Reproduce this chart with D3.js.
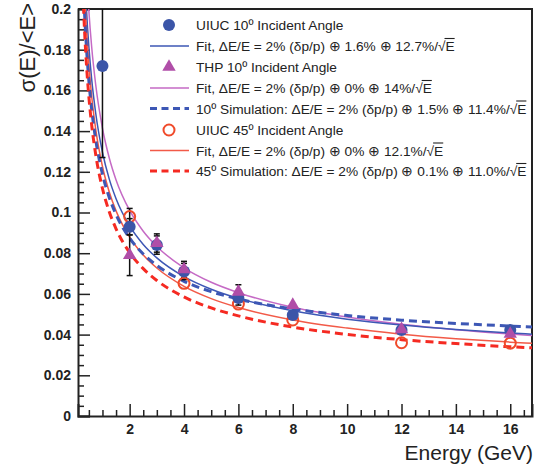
<!DOCTYPE html>
<html><head><meta charset="utf-8">
<script src="https://cdn.jsdelivr.net/npm/d3@7"></script>
<style>html,body{margin:0;padding:0;background:#fff;}svg{display:block;}</style>
</head><body>
<svg id="c" width="535" height="466"></svg>
<script>
// ---- data ----
const uiuc10E = [1, 2, 3, 4, 6, 8, 12, 16];
const uiuc10V = [0.172, 0.093, 0.084, 0.071, 0.058, 0.0496, 0.0423, 0.0423];
const uiuc10Err = [0.045, 0.004, 0.0045, 0.004, 0.0035, 0, 0, 0];

const thpE = [2, 3, 4, 6, 8, 12, 16];
const thpV = [0.079, 0.085, 0.072, 0.061, 0.0545, 0.0426, 0.0403];
const thpErr = [0.010, 0.0045, 0.004, 0.0035, 0, 0, 0];

const uiuc45E = [2, 4, 6, 8, 12, 16];
const uiuc45V = [0.098, 0.0652, 0.055, 0.0472, 0.036, 0.0358];
const uiuc45Err = [0.004, 0, 0, 0, 0, 0];

// curves on a common energy grid
const curveE = [0.25,0.3,0.35,0.4,0.45,0.5,0.6,0.75,1,1.25,1.5,2,2.5,3,4,5,6,8,10,12,14,16,16.8];
const fitUiuc10 = [0.2553,0.2333,0.2162,0.2024,0.1910,0.1814,0.1659,0.1489,0.1296,0.1164,0.1068,0.0934,0.0843,0.0777,0.0685,0.0623,0.0578,0.0517,0.0476,0.0447,0.0425,0.0408,0.0402];
const fitThp = [0.2807,0.2564,0.2375,0.2223,0.2097,0.1990,0.1818,0.1629,0.1414,0.1268,0.1160,0.1010,0.0908,0.0833,0.0728,0.0657,0.0606,0.0534,0.0486,0.0451,0.0424,0.0403,0.0396];
const sim10 = [0.2305,0.2109,0.1956,0.1834,0.1733,0.1647,0.1510,0.1359,0.1189,0.1074,0.0990,0.0874,0.0796,0.0740,0.0662,0.0611,0.0575,0.0526,0.0494,0.0471,0.0455,0.0442,0.0437];
const fitUiuc45 = [0.2428,0.2218,0.2055,0.1924,0.1815,0.1723,0.1575,0.1411,0.1226,0.1101,0.1008,0.0879,0.0791,0.0727,0.0637,0.0577,0.0533,0.0472,0.0432,0.0402,0.0380,0.0363,0.0357];
const sim45 = [0.2209,0.2018,0.1870,0.1751,0.1652,0.1568,0.1434,0.1286,0.1118,0.1004,0.0920,0.0803,0.0724,0.0666,0.0585,0.0531,0.0492,0.0437,0.0401,0.0375,0.0356,0.0340,0.0335];

const xTicks = [2, 4, 6, 8, 10, 12, 14, 16];
const xTickLabels = ["2", "4", "6", "8", "10", "12", "14", "16"];
const yTicks = [0, 0.02, 0.04, 0.06, 0.08, 0.1, 0.12, 0.14, 0.16, 0.18, 0.2];
const yTickLabels = ["0", "0.02", "0.04", "0.06", "0.08", "0.1", "0.12", "0.14", "0.16", "0.18", "0.2"];

const legendLabels = [
  ["UIUC 10º Incident Angle"],
  ["Fit, ΔE/E = 2% (δp/p) ⊕ 1.6% ⊕ 12.7%/", "E"],
  ["THP 10º Incident Angle"],
  ["Fit, ΔE/E = 2% (δp/p) ⊕ 0% ⊕ 14%/", "E"],
  ["10º Simulation: ΔE/E = 2% (δp/p) ⊕ 1.5% ⊕ 11.4%/", "E"],
  ["UIUC 45º Incident Angle"],
  ["Fit, ΔE/E = 2% (δp/p) ⊕ 0% ⊕ 12.1%/", "E"],
  ["45º Simulation: ΔE/E = 2% (δp/p) ⊕ 0.1% ⊕ 11.0%/", "E"]
];

// ---- styles ----
const C = {
  blue: "#3b55a8", blueLine: "#3d57b5", magenta: "#b04ea8", magentaLine: "#c56ac5",
  red: "#f04a2a", redLine: "#f25a48", redDash: "#f52a22", axis: "#222"
};

const svg = d3.select("#c");
const L = 78, R = 532, T = 9, B = 416;
const x = d3.scaleLinear().domain([0.1, 16.8]).range([L, R]);
const y = d3.scaleLinear().domain([0, 0.2]).range([B, T]);

svg.append("defs").append("clipPath").attr("id", "clip")
  .append("rect").attr("x", L).attr("y", T).attr("width", R - L).attr("height", B - T);

const xMinor = d3.range(0.5, 16.8, 0.5).filter(v => Math.abs(v / 2 - Math.round(v / 2)) > 1e-6);
const yMinor = d3.range(0.005, 0.2, 0.005).filter(v => Math.abs(v / 0.02 - Math.round(v / 0.02)) > 1e-6);

const font = "'Liberation Sans', Arial, Helvetica, sans-serif";

svg.append("g").attr("transform", `translate(0,${B})`)
  .call(d3.axisBottom(x).tickValues(xTicks).tickSize(-12).tickPadding(8)
    .tickFormat((d, i) => xTickLabels[i]));
svg.append("g").attr("transform", `translate(0,${B})`)
  .call(d3.axisBottom(x).tickValues(xMinor).tickSize(-6).tickFormat(""))
  .call(g => g.select(".domain").remove());
svg.append("g").attr("transform", `translate(${L},0)`)
  .call(d3.axisLeft(y).tickValues(yTicks).tickSize(-12).tickPadding(7)
    .tickFormat((d, i) => yTickLabels[i]));
svg.append("g").attr("transform", `translate(${L},0)`)
  .call(d3.axisLeft(y).tickValues(yMinor).tickSize(-6).tickFormat(""))
  .call(g => g.select(".domain").remove());

svg.selectAll(".tick line").attr("stroke", C.axis).attr("stroke-width", 1.5);
svg.selectAll(".domain").attr("stroke", C.axis).attr("stroke-width", 2);
svg.selectAll(".tick text").attr("font-family", font).attr("font-weight", "bold")
  .attr("font-size", 14).attr("fill", "#222");

svg.append("path").attr("d", `M${L},${T}H${R}V${B}`).attr("fill", "none")
  .attr("stroke", C.axis).attr("stroke-width", 2);

svg.append("text").attr("x", R + 1).attr("y", 460).attr("text-anchor", "end")
  .attr("font-family", font).attr("font-size", 21).attr("fill", "#222").text("Energy (GeV)");
svg.append("text").attr("transform", "translate(35,3) rotate(-90)").attr("text-anchor", "end")
  .attr("font-family", font).attr("font-size", 22).attr("fill", "#222").text("σ(E)/<E>");

const plot = svg.append("g").attr("clip-path", "url(#clip)");
const line = d3.line().x(d => x(d[0])).y(d => y(d[1])).curve(d3.curveMonotoneX);
const curves = [
  { v: fitThp, color: C.magentaLine, w: 1.5, dash: null },
  { v: fitUiuc10, color: C.blueLine, w: 1.5, dash: null },
  { v: fitUiuc45, color: C.redLine, w: 1.5, dash: null },
  { v: sim10, color: C.blueLine, w: 3, dash: "8,5" },
  { v: sim45, color: C.redDash, w: 3, dash: "8,5" }
];
curves.forEach(c => {
  plot.append("path").datum(curveE.map((e, i) => [e, c.v[i]]))
    .attr("d", line).attr("fill", "none").attr("stroke", c.color)
    .attr("stroke-width", c.w).attr("stroke-dasharray", c.dash);
});

function errBars(E, V, Err) {
  E.forEach((e, i) => {
    if (!Err[i]) return;
    const cx = x(e), y1 = y(Math.min(V[i] + Err[i], 0.2)), y0 = y(V[i] - Err[i]);
    plot.append("line").attr("x1", cx).attr("x2", cx).attr("y1", y1).attr("y2", y0)
      .attr("stroke", "#111").attr("stroke-width", 1.5);
    [y0, y1].forEach(yy => {
      if (V[i] + Err[i] > 0.2 && yy === y1) return;
      plot.append("line").attr("x1", cx - 3).attr("x2", cx + 3).attr("y1", yy).attr("y2", yy)
        .attr("stroke", "#111").attr("stroke-width", 1.5);
    });
  });
}
errBars(uiuc10E, uiuc10V, uiuc10Err);
errBars(thpE, thpV, thpErr);
errBars(uiuc45E, uiuc45V, uiuc45Err);

const tri = d3.symbol().type(d3.symbolTriangle).size(78);
function circleFilled(g, cx, cy) {
  g.append("circle").attr("cx", cx).attr("cy", cy).attr("r", 6).attr("fill", C.blue);
}
function triangle(g, cx, cy) {
  g.append("path").attr("d", tri()).attr("transform", `translate(${cx},${cy})`).attr("fill", C.magenta);
}
function circleOpen(g, cx, cy) {
  g.append("circle").attr("cx", cx).attr("cy", cy).attr("r", 5.5).attr("fill", "none")
    .attr("stroke", C.red).attr("stroke-width", 2);
}
uiuc45E.forEach((e, i) => circleOpen(plot, x(e), y(uiuc45V[i])));
uiuc10E.forEach((e, i) => circleFilled(plot, x(e), y(uiuc10V[i])));
thpE.forEach((e, i) => triangle(plot, x(e), y(thpV[i])));

const lg = svg.append("g");
const rowY = [25, 46, 67, 88, 108.5, 130, 150.5, 171];
const sym = [
  g => circleFilled(g, 169, 0),
  g => g.append("line").attr("x1", 150).attr("x2", 189).attr("stroke", C.blueLine).attr("stroke-width", 1.5),
  g => triangle(g, 169, 0),
  g => g.append("line").attr("x1", 150).attr("x2", 189).attr("stroke", C.magentaLine).attr("stroke-width", 1.5),
  g => g.append("line").attr("x1", 150).attr("x2", 189).attr("stroke", C.blueLine).attr("stroke-width", 3).attr("stroke-dasharray", "7,4.5"),
  g => circleOpen(g, 169, 0),
  g => g.append("line").attr("x1", 150).attr("x2", 189).attr("stroke", C.redLine).attr("stroke-width", 1.5),
  g => g.append("line").attr("x1", 150).attr("x2", 189).attr("stroke", C.redDash).attr("stroke-width", 3).attr("stroke-dasharray", "7,4.5")
];
legendLabels.forEach((lab, i) => {
  const g = lg.append("g").attr("transform", `translate(0,${rowY[i]})`);
  sym[i](g);
  const t = g.append("text").attr("x", 196).attr("y", 5).attr("font-family", font)
    .attr("font-size", 13.7).attr("fill", "#222");
  t.append("tspan").text(lab[0]);
  if (lab.length > 1) {
    t.append("tspan").text("√");
    const w2 = t.node().getComputedTextLength();
    t.append("tspan").text(lab[1]);
    const w3 = t.node().getComputedTextLength();
    g.append("line").attr("x1", 196 + w2 - 1).attr("x2", 196 + w3).attr("y1", -7.5).attr("y2", -7.5)
      .attr("stroke", "#222").attr("stroke-width", 1.1);
  }
});
</script>
</body></html>
